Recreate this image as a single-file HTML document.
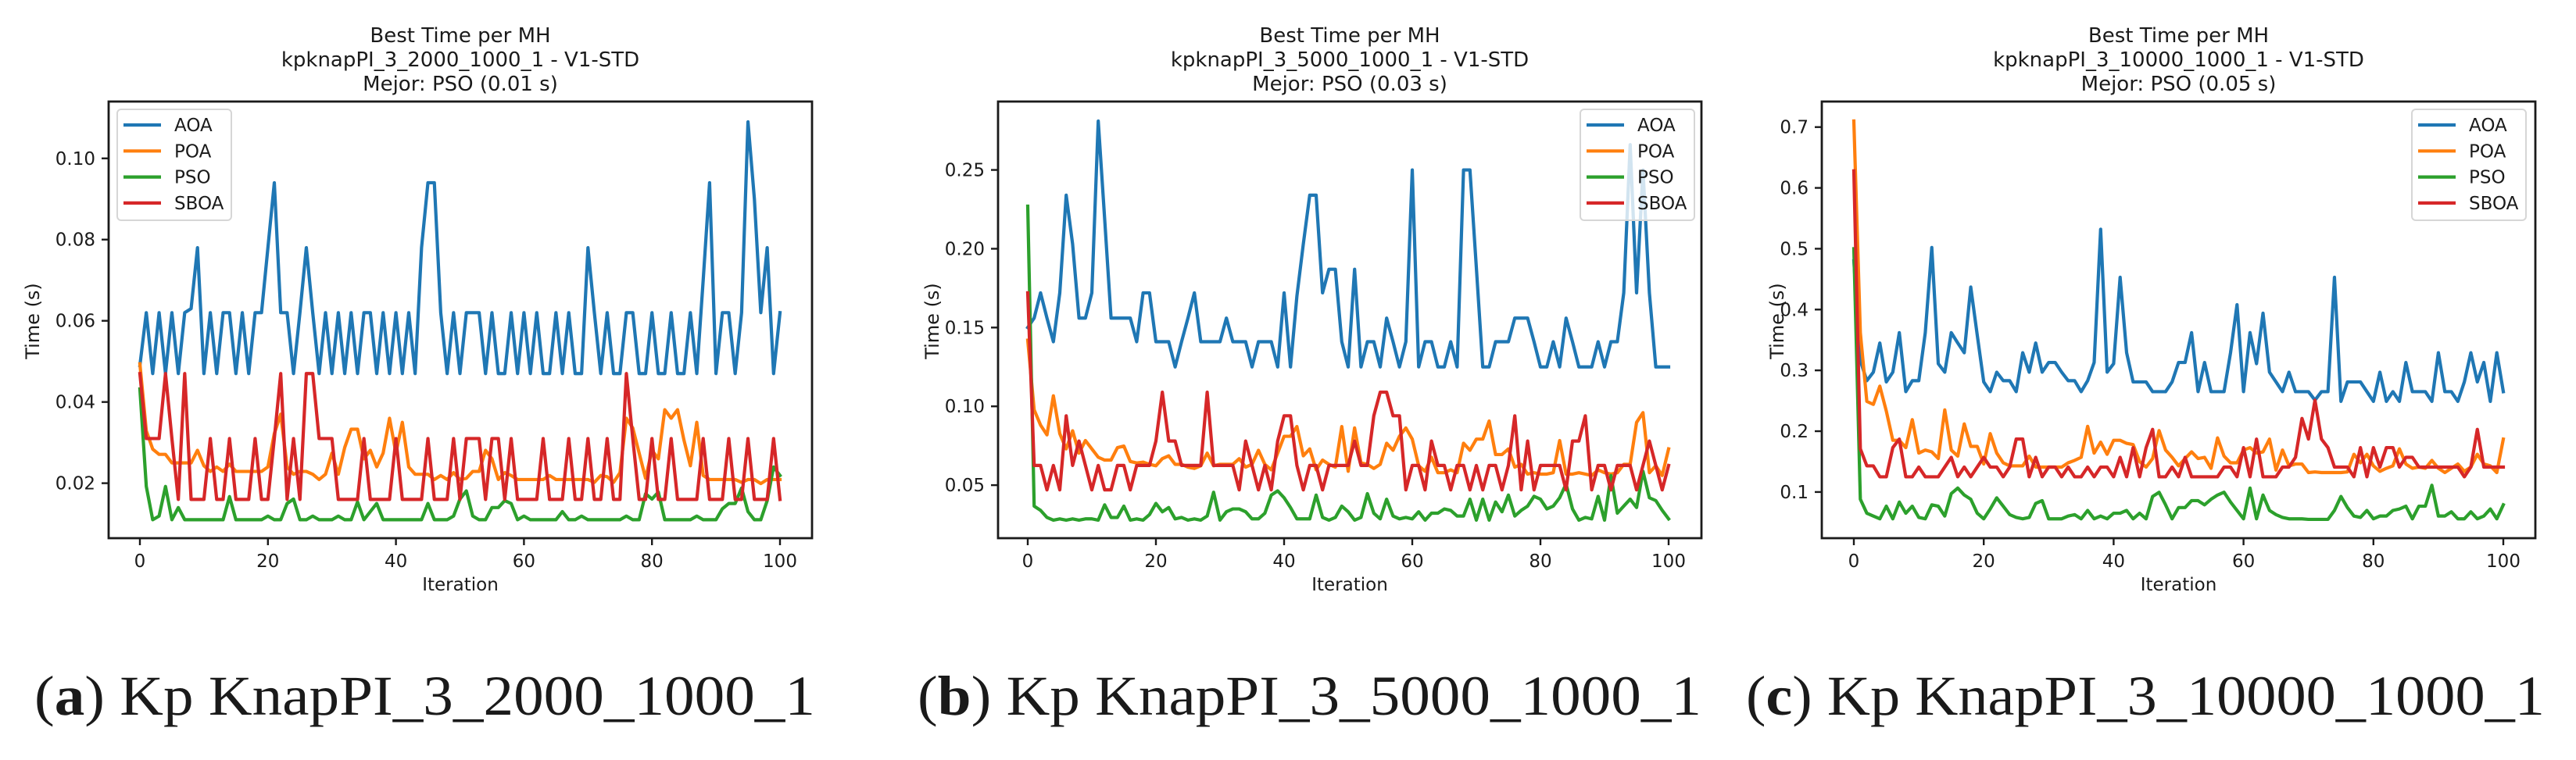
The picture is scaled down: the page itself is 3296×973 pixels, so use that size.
<!DOCTYPE html>
<html><head><meta charset="utf-8"><style>
html,body{margin:0;padding:0;background:#fff;}
svg{display:block;}
text{font-family:"DejaVu Sans","Liberation Sans",sans-serif;fill:#1a1a1a;}
.cap{font-family:"Liberation Serif",serif;}
</style></head><body>
<svg id="fig" width="3296" height="973" viewBox="0 0 3296 973" xmlns="http://www.w3.org/2000/svg"></svg>
<script>
const seriesNames = ["AOA","POA","PSO","SBOA"];
const seriesColors = ["#1f77b4","#ff7f0e","#2ca02c","#d62728"];
const xTicks = [0,20,40,60,80,100];

// ---- Chart A: kpknapPI_3_2000_1000_1
const aYTicks = [0.02,0.04,0.06,0.08,0.10];
const aYTickLabels = ["0.02","0.04","0.06","0.08","0.10"];
const aAOA = [0.049,0.062,0.047,0.062,0.047,0.062,0.047,0.062,0.063,0.078,0.047,0.062,0.047,0.062,0.062,0.047,0.062,0.047,0.062,0.062,0.078,0.094,0.062,0.062,0.047,0.062,0.078,0.062,0.047,0.062,0.047,0.062,0.047,0.062,0.047,0.062,0.062,0.047,0.062,0.047,0.062,0.047,0.062,0.047,0.078,0.094,0.094,0.062,0.047,0.062,0.047,0.062,0.062,0.062,0.047,0.062,0.047,0.047,0.062,0.047,0.062,0.047,0.062,0.047,0.047,0.062,0.047,0.062,0.047,0.047,0.078,0.062,0.047,0.062,0.047,0.047,0.062,0.062,0.047,0.047,0.062,0.047,0.047,0.062,0.047,0.047,0.062,0.047,0.070,0.094,0.047,0.062,0.062,0.047,0.062,0.109,0.090,0.062,0.078,0.047,0.062];
const aPOA = [0.0494,0.0329,0.0284,0.0271,0.0271,0.0250,0.0250,0.0250,0.0250,0.0281,0.0243,0.0229,0.0240,0.0229,0.0247,0.0229,0.0229,0.0229,0.0229,0.0229,0.0240,0.0322,0.0370,0.0240,0.0222,0.0229,0.0229,0.0222,0.0209,0.0222,0.0274,0.0222,0.0288,0.0333,0.0333,0.0260,0.0281,0.0240,0.0274,0.0360,0.0274,0.0350,0.0240,0.0222,0.0222,0.0222,0.0209,0.0219,0.0209,0.0226,0.0209,0.0212,0.0229,0.0229,0.0281,0.0260,0.0209,0.0226,0.0219,0.0209,0.0209,0.0209,0.0209,0.0209,0.0219,0.0209,0.0209,0.0209,0.0209,0.0209,0.0209,0.0202,0.0219,0.0216,0.0202,0.0226,0.0360,0.0336,0.0274,0.0212,0.0281,0.0260,0.0381,0.0360,0.0381,0.0306,0.0243,0.0350,0.0219,0.0209,0.0209,0.0209,0.0209,0.0209,0.0202,0.0209,0.0209,0.0199,0.0209,0.0209,0.0209];
const aPSO = [0.0432,0.0192,0.011,0.0119,0.0192,0.011,0.014,0.011,0.011,0.011,0.011,0.011,0.011,0.011,0.0167,0.011,0.011,0.011,0.011,0.011,0.0119,0.011,0.011,0.015,0.0161,0.011,0.011,0.0119,0.011,0.011,0.011,0.0119,0.011,0.011,0.0154,0.011,0.013,0.015,0.011,0.011,0.011,0.011,0.011,0.011,0.011,0.015,0.011,0.011,0.011,0.0119,0.0161,0.0181,0.0119,0.011,0.011,0.014,0.014,0.0157,0.015,0.011,0.0119,0.011,0.011,0.011,0.011,0.011,0.013,0.011,0.011,0.0119,0.011,0.011,0.011,0.011,0.011,0.011,0.0119,0.011,0.011,0.0174,0.0161,0.0178,0.011,0.011,0.011,0.011,0.011,0.0119,0.011,0.011,0.011,0.0137,0.015,0.015,0.0188,0.013,0.011,0.011,0.0157,0.024,0.0219];
const aSBOA = [0.047,0.031,0.031,0.031,0.047,0.031,0.016,0.047,0.016,0.016,0.016,0.031,0.016,0.016,0.031,0.016,0.016,0.016,0.031,0.016,0.016,0.031,0.047,0.016,0.031,0.016,0.047,0.047,0.031,0.031,0.031,0.016,0.016,0.016,0.016,0.031,0.016,0.016,0.016,0.016,0.031,0.016,0.016,0.016,0.016,0.031,0.016,0.016,0.016,0.031,0.016,0.031,0.031,0.031,0.016,0.031,0.031,0.016,0.031,0.016,0.016,0.016,0.016,0.031,0.016,0.016,0.016,0.031,0.016,0.016,0.031,0.016,0.016,0.031,0.016,0.016,0.047,0.031,0.016,0.016,0.031,0.016,0.016,0.031,0.016,0.016,0.016,0.016,0.031,0.016,0.016,0.016,0.031,0.016,0.016,0.031,0.016,0.016,0.016,0.031,0.016];

// ---- Chart B: kpknapPI_3_5000_1000_1
const bYTicks = [0.05,0.10,0.15,0.20,0.25];
const bYTickLabels = ["0.05","0.10","0.15","0.20","0.25"];
const bAOA = [0.150,0.156,0.172,0.156,0.141,0.172,0.234,0.203,0.156,0.156,0.172,0.281,0.219,0.156,0.156,0.156,0.156,0.141,0.172,0.172,0.141,0.141,0.141,0.125,0.141,0.156,0.172,0.141,0.141,0.141,0.141,0.156,0.141,0.141,0.141,0.125,0.141,0.141,0.141,0.125,0.172,0.125,0.170,0.203,0.234,0.234,0.172,0.187,0.187,0.141,0.125,0.187,0.125,0.141,0.141,0.125,0.156,0.141,0.125,0.141,0.250,0.125,0.141,0.141,0.125,0.125,0.141,0.125,0.250,0.250,0.188,0.125,0.125,0.141,0.141,0.141,0.156,0.156,0.156,0.141,0.125,0.125,0.141,0.125,0.156,0.141,0.125,0.125,0.125,0.141,0.125,0.141,0.141,0.172,0.266,0.172,0.250,0.172,0.125,0.125,0.125];
const bPOA = [0.142,0.0978,0.0881,0.0819,0.1067,0.0827,0.0730,0.0845,0.0703,0.0783,0.0730,0.0677,0.0659,0.0659,0.0738,0.0748,0.0650,0.0641,0.0646,0.0632,0.0623,0.0668,0.0686,0.0632,0.0632,0.0614,0.0606,0.0623,0.0703,0.0623,0.0632,0.0632,0.0632,0.0668,0.0614,0.0632,0.0721,0.0632,0.0597,0.0703,0.0810,0.0810,0.0872,0.0686,0.0730,0.0597,0.0659,0.0632,0.0614,0.0872,0.0588,0.0863,0.0641,0.0632,0.0606,0.0632,0.0766,0.0721,0.0810,0.0863,0.0792,0.0623,0.0588,0.0677,0.0579,0.0579,0.0597,0.0579,0.0766,0.0721,0.0792,0.0792,0.0907,0.0694,0.0694,0.0730,0.0614,0.0632,0.0570,0.0579,0.0570,0.0570,0.0579,0.0783,0.0570,0.0570,0.0579,0.0570,0.0561,0.0597,0.0579,0.0570,0.0579,0.0632,0.0632,0.0898,0.0960,0.0579,0.0623,0.0561,0.0730];
const bPSO = [0.227,0.0367,0.0340,0.0295,0.0278,0.0286,0.0278,0.0286,0.0278,0.0286,0.0286,0.0278,0.0375,0.0295,0.0295,0.0367,0.0278,0.0286,0.0278,0.0313,0.0384,0.0331,0.0358,0.0286,0.0295,0.0278,0.0286,0.0278,0.0304,0.0455,0.0278,0.0331,0.0349,0.0349,0.0331,0.0286,0.0286,0.0322,0.0437,0.0464,0.0420,0.0358,0.0286,0.0286,0.0286,0.0437,0.0295,0.0278,0.0295,0.0367,0.0331,0.0278,0.0295,0.0446,0.0322,0.0286,0.0411,0.0304,0.0286,0.0295,0.0286,0.0331,0.0278,0.0322,0.0322,0.0349,0.0340,0.0304,0.0304,0.0411,0.0278,0.0411,0.0278,0.0393,0.0331,0.0437,0.0304,0.0340,0.0367,0.0429,0.0411,0.0349,0.0367,0.0420,0.0508,0.0349,0.0278,0.0295,0.0286,0.0429,0.0278,0.0561,0.0322,0.0367,0.0411,0.0358,0.0588,0.0420,0.0402,0.0340,0.0286];
const bSBOA = [0.172,0.0625,0.0625,0.047,0.0625,0.047,0.094,0.0625,0.078,0.0625,0.047,0.0625,0.047,0.047,0.0625,0.0625,0.047,0.0625,0.0625,0.0625,0.078,0.109,0.078,0.078,0.0625,0.0625,0.0625,0.0625,0.109,0.0625,0.0625,0.0625,0.0625,0.047,0.078,0.0625,0.047,0.0625,0.047,0.078,0.094,0.094,0.0625,0.047,0.0625,0.0625,0.047,0.0625,0.0625,0.0625,0.0625,0.078,0.0625,0.0625,0.094,0.109,0.109,0.094,0.094,0.047,0.0625,0.0625,0.047,0.078,0.0625,0.0625,0.047,0.0625,0.0625,0.047,0.0625,0.047,0.0625,0.0625,0.047,0.0625,0.094,0.047,0.078,0.047,0.0625,0.0625,0.0625,0.0625,0.047,0.078,0.078,0.094,0.047,0.0625,0.0625,0.047,0.0625,0.0625,0.0625,0.047,0.0625,0.078,0.0625,0.047,0.0625];

// ---- Chart C: kpknapPI_3_10000_1000_1
const cYTicks = [0.1,0.2,0.3,0.4,0.5,0.6,0.7];
const cYTickLabels = ["0.1","0.2","0.3","0.4","0.5","0.6","0.7"];
const cAOA = [0.48,0.316,0.283,0.297,0.345,0.281,0.297,0.362,0.265,0.283,0.283,0.362,0.502,0.311,0.297,0.362,0.345,0.329,0.437,0.358,0.281,0.265,0.297,0.283,0.283,0.265,0.329,0.297,0.345,0.297,0.313,0.313,0.297,0.283,0.283,0.265,0.283,0.313,0.532,0.297,0.311,0.453,0.329,0.281,0.281,0.281,0.265,0.265,0.265,0.281,0.313,0.313,0.362,0.265,0.313,0.265,0.265,0.265,0.329,0.408,0.265,0.362,0.311,0.394,0.297,0.281,0.265,0.297,0.265,0.265,0.265,0.251,0.265,0.265,0.453,0.249,0.281,0.281,0.281,0.265,0.249,0.297,0.249,0.265,0.249,0.313,0.265,0.265,0.265,0.249,0.329,0.265,0.265,0.249,0.281,0.329,0.281,0.313,0.249,0.329,0.265];
const cPOA = [0.71,0.362,0.249,0.244,0.274,0.233,0.185,0.185,0.173,0.219,0.164,0.169,0.166,0.155,0.235,0.169,0.159,0.212,0.175,0.175,0.146,0.196,0.164,0.148,0.143,0.143,0.143,0.159,0.141,0.141,0.141,0.141,0.141,0.148,0.152,0.157,0.208,0.164,0.182,0.162,0.185,0.185,0.180,0.178,0.150,0.141,0.155,0.201,0.169,0.157,0.143,0.155,0.166,0.155,0.157,0.139,0.189,0.159,0.148,0.148,0.169,0.173,0.164,0.166,0.187,0.136,0.169,0.143,0.146,0.146,0.132,0.133,0.132,0.132,0.132,0.132,0.133,0.162,0.148,0.162,0.143,0.134,0.139,0.143,0.171,0.146,0.139,0.141,0.139,0.152,0.139,0.132,0.139,0.146,0.134,0.141,0.162,0.146,0.143,0.132,0.187];
const cPSO = [0.50,0.0881,0.0651,0.0605,0.0559,0.0767,0.0559,0.0835,0.0651,0.0767,0.0582,0.0559,0.0789,0.0767,0.0605,0.0974,0.1065,0.0950,0.0881,0.0651,0.0559,0.0721,0.0904,0.0767,0.0628,0.0582,0.0559,0.0582,0.0812,0.0858,0.0559,0.0559,0.0559,0.0605,0.0628,0.0559,0.0697,0.0559,0.0605,0.0559,0.0651,0.0651,0.0697,0.0559,0.0651,0.0559,0.0927,0.0996,0.0789,0.0559,0.0744,0.0744,0.0858,0.0858,0.0789,0.0881,0.0950,0.0996,0.0835,0.0697,0.0559,0.1065,0.0559,0.0950,0.0697,0.0628,0.0582,0.0559,0.0559,0.0559,0.055,0.055,0.055,0.055,0.0697,0.0927,0.0744,0.0605,0.0582,0.0697,0.0559,0.0605,0.0605,0.0697,0.0721,0.0767,0.0559,0.0767,0.0767,0.1111,0.0605,0.0605,0.0674,0.0559,0.0559,0.0674,0.0559,0.0605,0.0721,0.0559,0.0789];
const cSBOA = [0.628,0.171,0.143,0.143,0.125,0.125,0.173,0.187,0.125,0.125,0.141,0.125,0.125,0.125,0.141,0.157,0.125,0.141,0.125,0.141,0.157,0.141,0.141,0.125,0.141,0.187,0.187,0.125,0.157,0.125,0.141,0.141,0.125,0.141,0.125,0.125,0.141,0.125,0.141,0.141,0.125,0.157,0.125,0.173,0.125,0.173,0.203,0.125,0.125,0.141,0.125,0.157,0.125,0.125,0.125,0.125,0.125,0.141,0.141,0.125,0.173,0.125,0.187,0.125,0.125,0.125,0.141,0.141,0.157,0.221,0.187,0.251,0.187,0.173,0.141,0.141,0.141,0.125,0.173,0.125,0.173,0.141,0.173,0.173,0.141,0.157,0.157,0.141,0.141,0.141,0.141,0.141,0.141,0.141,0.125,0.141,0.203,0.141,0.141,0.141,0.141];

const NS = "http://www.w3.org/2000/svg";
const svg = document.getElementById("fig");
function mk(tag, attrs, parent) {
  const e = document.createElementNS(NS, tag);
  for (const k in attrs) e.setAttribute(k, attrs[k]);
  (parent || svg).appendChild(e);
  return e;
}

function drawChart(cfg) {
  const g = mk("g", {});
  
  
  const L = cfg.left, R = cfg.right, T = 130, B = 689;
  const xs = v => cfg.x0 + (cfg.x100 - cfg.x0) * v / 100;
  const ys = v => B - (v - cfg.ymin) / (cfg.ymax - cfg.ymin) * (B - T);
  const cx = (L + R) / 2;
  const titles = ["Best Time per MH", cfg.sub, cfg.best];
  const tys = [54, 85, 116];
  titles.forEach((t, i) => {
    const te = mk("text", {x: cx, y: tys[i], "text-anchor": "middle", "font-size": 26}, g);
    te.textContent = t;
    
    
  });
  const clipId = cfg.id + "-clip";
  const cp = mk("clipPath", {id: clipId}, g);
  mk("rect", {x: L, y: T, width: R - L, height: B - T}, cp);
  const lg = mk("g", {"clip-path": "url(#" + clipId + ")"}, g);
  cfg.series.forEach((arr, si) => {
    const pts = arr.map((v, i) => xs(i).toFixed(2) + "," + ys(v).toFixed(2)).join(" ");
    const pl = mk("polyline", {points: pts, fill: "none", stroke: seriesColors[si], "stroke-width": 4.2, "stroke-linejoin": "round", "stroke-linecap": "square"}, lg);
    
    
  });
  const fr = mk("rect", {x: L, y: T, width: R - L, height: B - T, fill: "none", stroke: "#1a1a1a", "stroke-width": 2.8}, g);
  
  
  xTicks.forEach(t => {
    const x = xs(t);
    mk("line", {x1: x, y1: B, x2: x, y2: B + 9, stroke: "#1a1a1a", "stroke-width": 2.4}, g);
    const te = mk("text", {x: x, y: 726, "text-anchor": "middle", "font-size": 23}, g);
    te.textContent = String(t);
    
    
  });
  cfg.yTicks.forEach((t, i) => {
    const y = ys(t);
    mk("line", {x1: L - 9, y1: y, x2: L, y2: y, stroke: "#1a1a1a", "stroke-width": 2.4}, g);
    const te = mk("text", {x: L - 17, y: y + 8, "text-anchor": "end", "font-size": 23}, g);
    te.textContent = cfg.yTickLabels[i];
    
    
  });
  const xt = mk("text", {x: cx, y: 756, "text-anchor": "middle", "font-size": 23}, g);
  xt.textContent = "Iteration";
  
  
  const yt = mk("text", {x: 0, y: 0, "text-anchor": "middle", "font-size": 24, transform: "translate(" + (cfg.ylabX + 8) + ",411) rotate(-90)"}, g);
  yt.textContent = "Time (s)";
  
  
  const lgx = cfg.legX;
  const leg = mk("g", {}, g);
  
  
  mk("rect", {x: lgx, y: 140, width: 146, height: 142, rx: 5, fill: "rgba(255,255,255,0.8)", stroke: "#d6d6d6", "stroke-width": 2}, leg);
  seriesNames.forEach((n, i) => {
    const y = 160 + i * 33.3;
    mk("line", {x1: lgx + 8, y1: y, x2: lgx + 56, y2: y, stroke: seriesColors[i], "stroke-width": 4.2}, leg);
    const te = mk("text", {x: lgx + 73, y: y + 8, "font-size": 23}, leg);
    te.textContent = n;
    
    
  });
  const cap = mk("text", {x: cfg.capX, y: 915, "font-size": 72, "class": "cap", textLength: cfg.capW, lengthAdjust: "spacingAndGlyphs"}, g);
  
  
  const t1 = mk("tspan", {}, cap); t1.textContent = "(";
  const t2 = mk("tspan", {"font-weight": "bold"}, cap); t2.textContent = cfg.letter;
  const t3 = mk("tspan", {}, cap); t3.textContent = ") " + cfg.capText;
}

drawChart({id: "chart-a", left: 139, right: 1039, x0: 179, x100: 998, ymin: 0.00646, ymax: 0.1140,
  yTicks: aYTicks, yTickLabels: aYTickLabels, series: [aAOA, aPOA, aPSO, aSBOA],
  sub: "kpknapPI_3_2000_1000_1 - V1-STD", best: "Mejor: PSO (0.01 s)", ylabX: 42, legX: 150,
  capX: 44, capW: 999, letter: "a", capText: "Kp KnapPI_3_2000_1000_1"});
drawChart({id: "chart-b", left: 1277, right: 2177, x0: 1315, x100: 2135, ymin: 0.01635, ymax: 0.2934,
  yTicks: bYTicks, yTickLabels: bYTickLabels, series: [bAOA, bPOA, bPSO, bSBOA],
  sub: "kpknapPI_3_5000_1000_1 - V1-STD", best: "Mejor: PSO (0.03 s)", ylabX: 1193, legX: 2022,
  capX: 1174, capW: 1003, letter: "b", capText: "Kp KnapPI_3_5000_1000_1"});
drawChart({id: "chart-c", left: 2331, right: 3244, x0: 2372, x100: 3203, ymin: 0.0241, ymax: 0.742,
  yTicks: cYTicks, yTickLabels: cYTickLabels, series: [cAOA, cPOA, cPSO, cSBOA],
  sub: "kpknapPI_3_10000_1000_1 - V1-STD", best: "Mejor: PSO (0.05 s)", ylabX: 2274, legX: 3086,
  capX: 2234, capW: 1022, letter: "c", capText: "Kp KnapPI_3_10000_1000_1"});
</script>
</body></html>
